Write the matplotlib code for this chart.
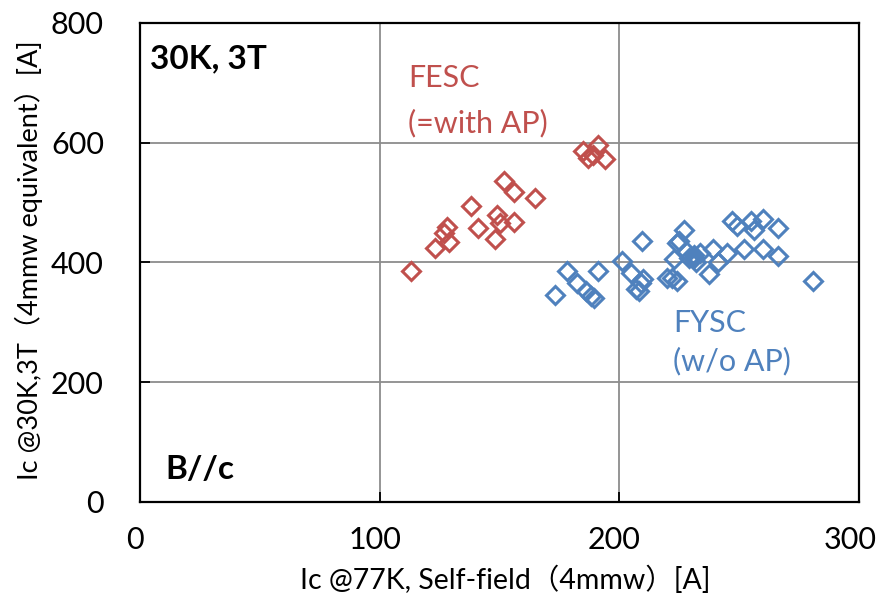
import numpy as np
import matplotlib.pyplot as plt
import matplotlib.transforms as mtransforms

plt.rcParams['font.family'] = ['Lato', 'Noto Sans CJK JP', 'DejaVu Sans']

# FESC (=with AP) samples
fesc_x = [113, 123, 129, 128, 127, 138, 141, 148, 149, 150, 156, 152, 156, 165,
          185, 187, 189, 191, 194]
fesc_y = [385, 425, 435, 460, 450, 495, 457, 440, 480, 466, 467, 536, 517, 508,
          586, 575, 580, 597, 572]

# FYSC (w/o AP) samples
fysc_x = [173, 178, 182.5, 186, 188, 189.5, 191, 201, 205, 207, 208, 210, 209, 209.6,
          220, 222, 224, 223, 224, 225, 227, 228, 229, 231, 232, 233.6, 231, 237.5,
          239, 241, 245, 247, 249, 252, 255, 256, 260, 260, 266, 266, 281]
fysc_y = [346, 386, 366, 352, 344, 340, 385, 402, 383, 355, 352, 372, 366, 436,
          374, 374, 369, 405, 433, 436, 455, 419, 408, 408, 400, 416, 412, 380,
          422, 401, 416, 469, 461, 422, 469, 455, 472, 422, 458, 410, 369]

red = '#C0504D'
blue = '#4F81BD'

fig = plt.figure(figsize=(8.83, 6.03), dpi=100)
ax = fig.add_axes([0.1586, 0.1675, 0.8142, 0.7944])

ax.plot(fysc_x, fysc_y, 'D', ms=9, mfc='none', mec=blue, mew=2.2)
ax.plot(fesc_x, fesc_y, 'D', ms=9, mfc='none', mec=red, mew=2.2)

ax.set_xlim(0, 300)
ax.set_ylim(0, 800)
ax.set_xticks([0, 100, 200, 300])
ax.set_yticks([0, 200, 400, 600, 800])
ax.grid(True, color='#8c8c8c', lw=1.3)
ax.set_axisbelow(True)
for s in ax.spines.values():
    s.set_linewidth(1.6)
    s.set_color('black')
ax.tick_params(direction='in', length=7, width=1.3, labelsize=22, pad=26)
ax.tick_params(axis='x', pad=17)

# nudge x tick labels left, the last one a bit more so it stays inside
xlabels = ax.get_xticklabels()
for i, lab in enumerate(xlabels):
    dx = -9 if i == len(xlabels) - 1 else -5
    off = mtransforms.ScaledTranslation(dx / 100, 0, fig.dpi_scale_trans)
    lab.set_transform(lab.get_transform() + off)

ax.set_xlabel('Ic @77K, Self-field（4mmw）[A]', fontsize=20.5, va='top')
ax.xaxis.set_label_coords(0.508, -0.132)
ax.set_ylabel('Ic @30K,3T（4mmw equivalent）[A]', fontsize=19.5)
ax.yaxis.set_label_coords(-0.135, 0.505)

ax.text(0.014, 0.955, '30K, 3T', transform=ax.transAxes, fontsize=24,
        fontweight='bold', va='top', ha='left')
ax.text(0.035, 0.038, 'B//c', transform=ax.transAxes, fontsize=24,
        fontweight='bold', va='bottom', ha='left')

ax.text(112, 693, 'FESC', color=red, fontsize=22, va='baseline', ha='left')
ax.text(112, 618, '(=with AP)', color=red, fontsize=22, va='baseline', ha='left')
ax.text(222.5, 284, 'FYSC', color=blue, fontsize=22, va='baseline', ha='left')
ax.text(222.5, 220, '(w/o AP)', color=blue, fontsize=22, va='baseline', ha='left')

fig.savefig('out.png', dpi=100)
